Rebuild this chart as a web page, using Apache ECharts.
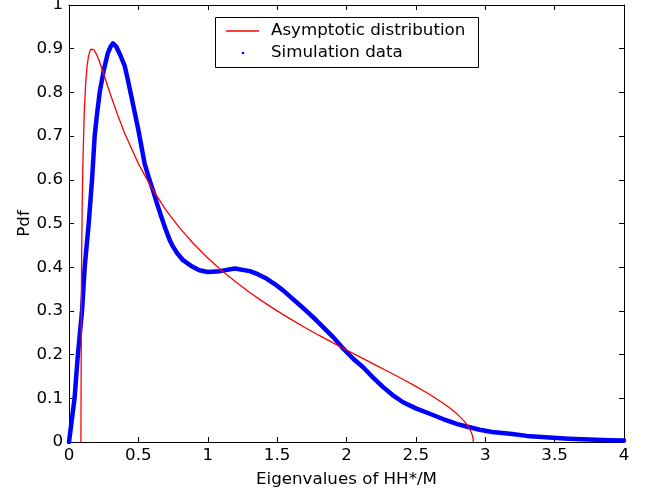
<!DOCTYPE html>
<html><head><meta charset="utf-8">
<script src="https://cdn.jsdelivr.net/npm/echarts@6/dist/echarts.min.js"></script>
<style>html,body{margin:0;padding:0;background:#fff;overflow:hidden}#c{width:649px;height:492px}</style>
</head><body><div id="c"></div>
<script>
var seriesNames = ['Asymptotic distribution', 'Simulation data'];
var xTitle = 'Eigenvalues of HH*/M';
var yTitle = 'Pdf';
// Asymptotic distribution (red)
var asymX = [0.0858,0.0858,0.09,0.095,0.10,0.11,0.12,0.13,0.14,0.15,0.16,0.17,0.18,0.20,0.22,0.25,0.30,0.35,0.40,0.50,0.60,0.70,0.80,0.90,1.00,1.10,1.20,1.30,1.40,1.50,1.60,1.70,1.80,1.90,2.00,2.10,2.20,2.30,2.40,2.50,2.60,2.70,2.75,2.80,2.85,2.88,2.90,2.91,2.914];
var asymY = [0,0,0.385,0.540,0.636,0.754,0.820,0.859,0.882,0.894,0.899,0.900,0.8975,0.886,0.870,0.842,0.794,0.749,0.707,0.637,0.579,0.530,0.489,0.453,0.421,0.3925,0.3666,0.3428,0.3207,0.3001,0.2807,0.2621,0.2444,0.2273,0.2105,0.1941,0.1778,0.1614,0.1447,0.1273,0.1088,0.0882,0.0766,0.0633,0.0471,0.0342,0.0219,0.0119,0];
// Simulation data (blue)
var simX = [0,0.02,0.04,0.064,0.094,0.113,0.142,0.166,0.185,0.20,0.221,0.25,0.28,0.30,0.317,0.34,0.37,0.40,0.42,0.45,0.475,0.50,0.545,0.575,0.605,0.635,0.666,0.695,0.726,0.75,0.78,0.822,0.88,0.94,1.0,1.087,1.195,1.303,1.36,1.423,1.48,1.543,1.60,1.665,1.72,1.784,1.84,1.904,1.977,2.05,2.12,2.19,2.264,2.33,2.408,2.5,2.6,2.7,2.8,2.865,2.96,3.05,3.18,3.3,3.49,3.6,3.75,3.9,4.0];
var simY = [0,0.05,0.1,0.2,0.3,0.4,0.5,0.6,0.70,0.745,0.80,0.85,0.89,0.905,0.912,0.905,0.885,0.862,0.835,0.79,0.752,0.714,0.637,0.605,0.576,0.545,0.515,0.488,0.462,0.447,0.432,0.416,0.403,0.393,0.389,0.391,0.397,0.391,0.384,0.374,0.362,0.347,0.331,0.313,0.297,0.278,0.260,0.240,0.2135,0.19,0.171,0.148,0.1256,0.108,0.091,0.077,0.0646,0.052,0.041,0.0355,0.028,0.023,0.0188,0.014,0.0096,0.0075,0.0055,0.004,0.0034];
var xTicks = [0,0.5,1,1.5,2,2.5,3,3.5,4];
var yTicks = [0,0.1,0.2,0.3,0.4,0.5,0.6,0.7,0.8,0.9,1];

function zip(a,b){return a.map(function(v,i){return [v,b[i]];});}
var font = '"DejaVu Sans", Arial, Helvetica, sans-serif';
var fs = 16.7;
var chart = echarts.init(document.getElementById('c'), null, {renderer:'canvas', width:649, height:492});
var axisCommon = {
  nameMoveOverlap:false,
  axisLine:{show:true, onZero:false, lineStyle:{color:'#000', width:1}},
  axisTick:{show:true, inside:true, length:5, lineStyle:{color:'#000'}},
  splitLine:{show:false}
};
chart.setOption({
  animation:false,
  backgroundColor:'#fff',
  grid:{left:69, right:25, top:5, bottom:50, containLabel:false, outerBoundsMode:'none'},
  xAxis:[
    Object.assign({type:'value', min:0, max:4, interval:0.5, position:'bottom',
      name:xTitle, nameLocation:'middle', nameGap:29,
      nameTextStyle:{color:'#000', fontSize:fs, fontFamily:font},
      axisLabel:{color:'#000', fontSize:fs, fontFamily:font, margin:5,
        formatter:function(v){return String(v);}}}, axisCommon),
    Object.assign({type:'value', min:0, max:4, interval:0.5, position:'top',
      axisLabel:{show:false}}, axisCommon)
  ],
  yAxis:[
    Object.assign({type:'value', min:0, max:1, interval:0.1, position:'left',
      name:yTitle, nameLocation:'middle', nameGap:36, nameRotate:90,
      nameTextStyle:{color:'#000', fontSize:fs, fontFamily:font},
      axisLabel:{color:'#000', fontSize:fs, fontFamily:font, margin:6,
        formatter:function(v){return String(Math.round(v*10)/10);}}}, axisCommon),
    Object.assign({type:'value', min:0, max:1, interval:0.1, position:'right',
      axisLabel:{show:false}}, axisCommon)
  ],
  series:[
    {name:seriesNames[1], type:'line', data:zip(simX,simY), showSymbol:false, symbol:'none',
      smooth:false, lineStyle:{color:'#0000ff', width:4.5, join:'round', cap:'round'}, z:2},
    {name:seriesNames[0], type:'line', data:zip(asymX,asymY), showSymbol:false, symbol:'none',
      smooth:false, lineStyle:{color:'#ff0000', width:1.3}, z:3}
  ],
  graphic:[
    {type:'rect', left:215, top:17, shape:{width:263, height:50}, style:{fill:'#fff', stroke:'#000', lineWidth:1}, z:10},
    {type:'line', shape:{x1:226, y1:31, x2:259, y2:31}, style:{stroke:'#ff0000', lineWidth:1.3}, z:11},
    {type:'circle', shape:{cx:243, cy:53, r:1.3}, style:{fill:'#0000ff'}, z:11},
    {type:'text', x:271, y:31, style:{text:seriesNames[0], fill:'#000', font:fs+'px '+font, textVerticalAlign:'middle', verticalAlign:'middle'}, z:11},
    {type:'text', x:271, y:53, style:{text:seriesNames[1], fill:'#000', font:fs+'px '+font, textVerticalAlign:'middle', verticalAlign:'middle'}, z:11}
  ]
});
</script></body></html>
